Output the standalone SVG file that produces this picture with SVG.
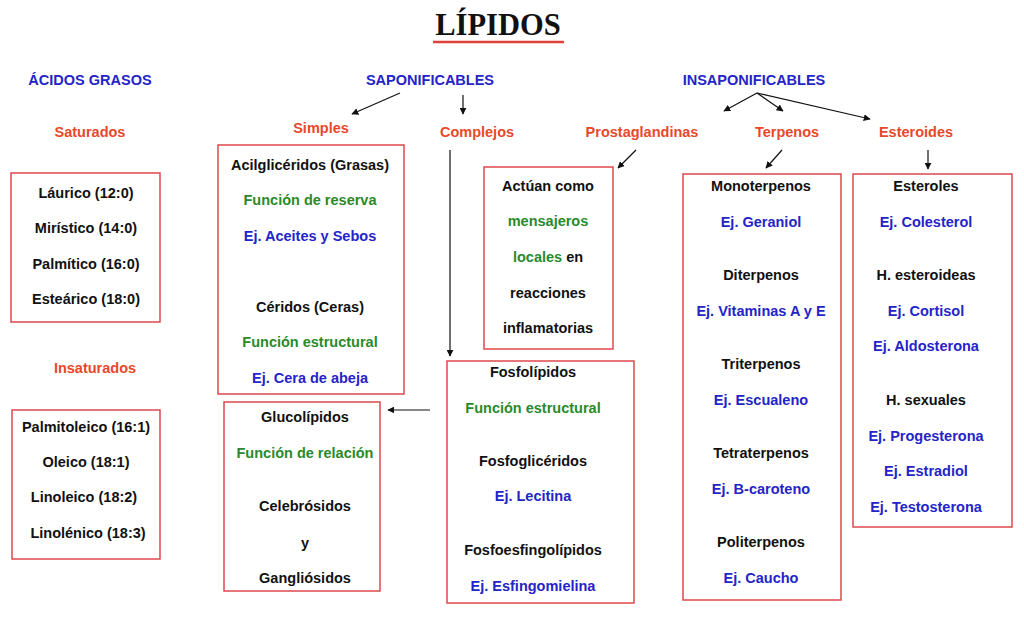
<svg xmlns="http://www.w3.org/2000/svg" width="1024" height="632" viewBox="0 0 1024 632">
<style>
text{font-family:"Liberation Sans",Arial,sans-serif;font-weight:bold;font-size:14.5px;text-anchor:middle}
.k{fill:#111}
.g{fill:#2a8a2a}
.b{fill:#2424c8}
.r{fill:#e8482a}
.h{fill:#2424c8}
.box{fill:none;stroke:#e0474c;stroke-width:1.5}
.c line{stroke:#111;stroke-width:1.2;marker-end:url(#ah)}
</style>
<defs>
<marker id="ah" viewBox="0 0 10 10" refX="9" refY="5" markerWidth="7" markerHeight="7" markerUnits="userSpaceOnUse" orient="auto">
<path d="M0,0 L10,5 L0,10 z" fill="#111"/>
</marker>
</defs>
<rect width="1024" height="632" fill="#fff"/>
<g id="title">
<text x="498" y="35" style="font-family:'Liberation Serif','Times New Roman',serif;font-size:30.5px" fill="#111">LÍPIDOS</text>
<line x1="433" y1="42" x2="564" y2="42" stroke="#e0403a" stroke-width="2.5"/>
</g>
<g id="acidos">
<text class="h" x="90" y="85">ÁCIDOS GRASOS</text>
<text class="r" x="90" y="137">Saturados</text>
<text class="r" x="95" y="373">Insaturados</text>
</g>
<g id="saturados">
<rect class="box" x="11" y="173" width="149" height="149"/>
<text class="k" x="86" y="198">Láurico (12:0)</text>
<text class="k" x="86" y="233">Mirístico (14:0)</text>
<text class="k" x="86" y="269">Palmítico (16:0)</text>
<text class="k" x="86" y="304">Esteárico (18:0)</text>
</g>
<g id="insaturados">
<rect class="box" x="12" y="410" width="148" height="149"/>
<text class="k" x="86" y="432">Palmitoleico (16:1)</text>
<text class="k" x="86" y="467">Oleico (18:1)</text>
<text class="k" x="84" y="502">Linoleico (18:2)</text>
<text class="k" x="88" y="538">Linolénico (18:3)</text>
</g>
<g id="saponificables">
<text class="h" x="430" y="85">SAPONIFICABLES</text>
<text class="r" x="321" y="133">Simples</text>
<text class="r" x="477" y="137">Complejos</text>
</g>
<g id="simples">
<rect class="box" x="218" y="145" width="186" height="249"/>
<text class="k" x="310" y="170">Acilglicéridos (Grasas)</text>
<text class="g" x="310" y="205">Función de reserva</text>
<text class="b" x="310" y="241">Ej. Aceites y Sebos</text>
<text class="k" x="310" y="312">Céridos (Ceras)</text>
<text class="g" x="310" y="347">Función estructural</text>
<text class="b" x="310" y="383">Ej. Cera de abeja</text>
</g>
<g id="glucolipidos">
<rect class="box" x="224" y="402" width="156" height="189"/>
<text class="k" x="305" y="422">Glucolípidos</text>
<text class="g" x="305" y="458">Función de relación</text>
<text class="k" x="305" y="511">Celebrósidos</text>
<text class="k" x="305" y="548">y</text>
<text class="k" x="305" y="583">Gangliósidos</text>
</g>
<g id="prostaglandinas">
<text class="r" x="642" y="137">Prostaglandinas</text>
<rect class="box" x="484" y="167" width="129" height="182"/>
<text class="k" x="548" y="191">Actúan como</text>
<text class="g" x="548" y="226">mensajeros</text>
<text x="548" y="262"><tspan class="g">locales</tspan><tspan class="k"> en</tspan></text>
<text class="k" x="548" y="298">reacciones</text>
<text class="k" x="548" y="333">inflamatorias</text>
</g>
<g id="fosfolipidos">
<rect class="box" x="447" y="361" width="187" height="242"/>
<text class="k" x="533" y="377">Fosfolípidos</text>
<text class="g" x="533" y="413">Función estructural</text>
<text class="k" x="533" y="466">Fosfoglicéridos</text>
<text class="b" x="533" y="501">Ej. Lecitina</text>
<text class="k" x="533" y="555">Fosfoesfingolípidos</text>
<text class="b" x="533" y="591">Ej. Esfingomielina</text>
</g>
<g id="insaponificables">
<text class="h" x="754" y="85">INSAPONIFICABLES</text>
<text class="r" x="787" y="137">Terpenos</text>
<text class="r" x="916" y="137">Esteroides</text>
</g>
<g id="terpenos">
<rect class="box" x="683" y="174" width="158" height="426"/>
<text class="k" x="761" y="191">Monoterpenos</text>
<text class="b" x="761" y="227">Ej. Geraniol</text>
<text class="k" x="761" y="280">Diterpenos</text>
<text class="b" x="761" y="316">Ej. Vitaminas A y E</text>
<text class="k" x="761" y="369">Triterpenos</text>
<text class="b" x="761" y="405">Ej. Escualeno</text>
<text class="k" x="761" y="458">Tetraterpenos</text>
<text class="b" x="761" y="494">Ej. B-caroteno</text>
<text class="k" x="761" y="547">Politerpenos</text>
<text class="b" x="761" y="583">Ej. Caucho</text>
</g>
<g id="esteroides">
<rect class="box" x="853" y="174" width="159" height="353"/>
<text class="k" x="926" y="191">Esteroles</text>
<text class="b" x="926" y="227">Ej. Colesterol</text>
<text class="k" x="926" y="280">H. esteroideas</text>
<text class="b" x="926" y="316">Ej. Cortisol</text>
<text class="b" x="926" y="351">Ej. Aldosterona</text>
<text class="k" x="926" y="405">H. sexuales</text>
<text class="b" x="926" y="441">Ej. Progesterona</text>
<text class="b" x="926" y="476">Ej. Estradiol</text>
<text class="b" x="926" y="512">Ej. Testosterona</text>
</g>
<g id="connectors" class="c">
<line x1="400" y1="93" x2="352" y2="114"/>
<line x1="463" y1="95" x2="463" y2="114"/>
<line x1="450" y1="150" x2="450" y2="356"/>
<line x1="430" y1="410" x2="388" y2="410"/>
<line x1="636" y1="150" x2="618" y2="168"/>
<line x1="757" y1="93" x2="724" y2="111"/>
<line x1="757" y1="93" x2="783" y2="111"/>
<line x1="757" y1="93" x2="870" y2="119"/>
<line x1="782" y1="150" x2="766" y2="168"/>
<line x1="928" y1="150" x2="928" y2="169"/>
</g>
</svg>
